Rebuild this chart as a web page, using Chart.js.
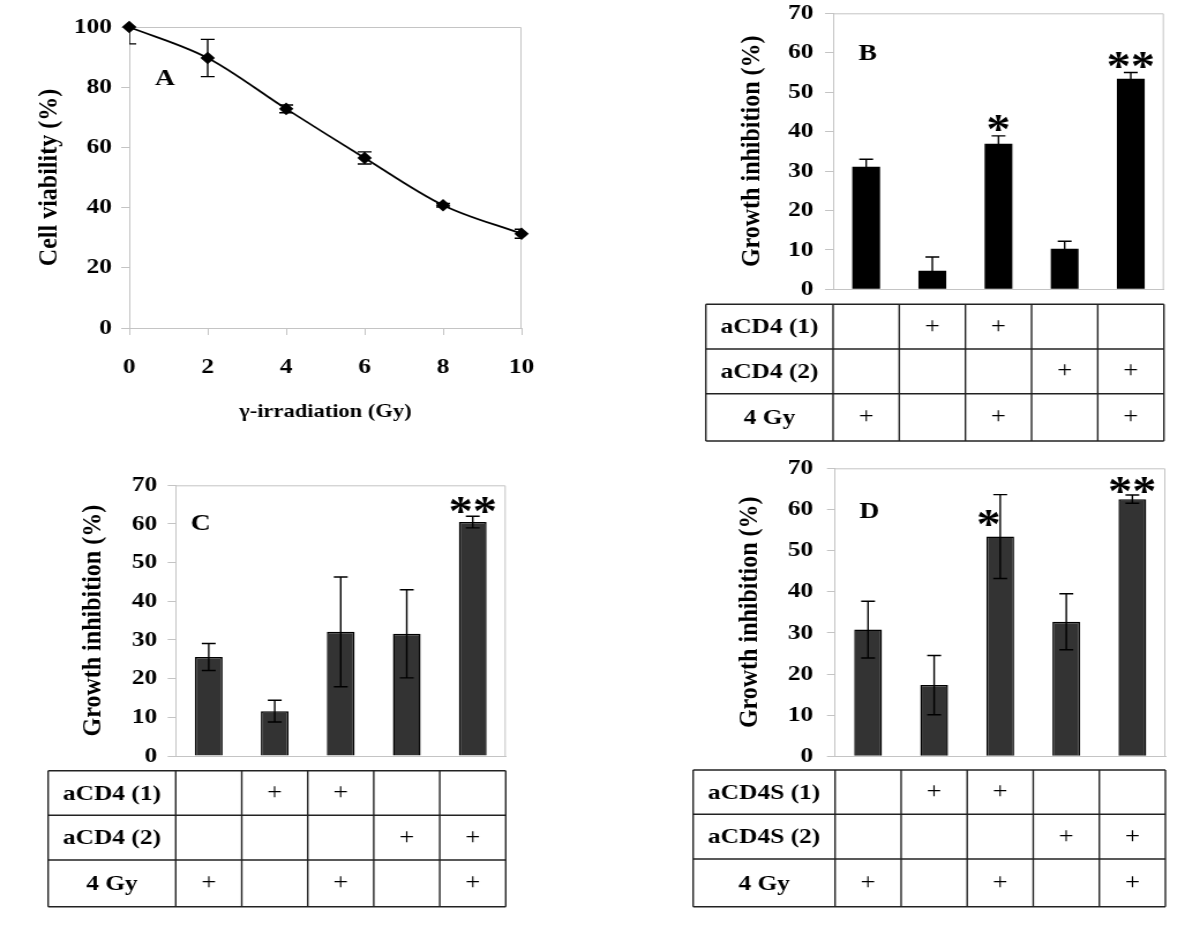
<!DOCTYPE html>
<html>
<head>
<meta charset="utf-8">
<script src="https://cdn.jsdelivr.net/npm/chart.js@4.4.1/dist/chart.umd.min.js"></script>
<style>
  body { margin: 0; background: #fff; }
  #wrap { position: relative; width: 1200px; height: 934px; overflow: hidden; background: #fff; }
  canvas { position: absolute; }
</style>
</head>
<body>
<div id="wrap">
  <!-- the source figure is stretched horizontally, so each 520px canvas is shown 600px wide -->
  <canvas id="panelA" width="520" height="460" style="left:0;top:0;width:600px;height:460px"></canvas>
  <canvas id="panelB" width="520" height="460" style="left:600px;top:0;width:600px;height:460px"></canvas>
  <canvas id="panelC" width="520" height="474" style="left:0;top:460px;width:600px;height:474px"></canvas>
  <canvas id="panelD" width="520" height="474" style="left:600px;top:460px;width:600px;height:474px"></canvas>
</div>
<script>
// panel A: dose response
const doses = [0, 2, 4, 6, 8, 10];
const viability = [100, 89.7, 72.8, 56.5, 40.8, 31.3];
const viabilityErr = [5.6, 6.2, 1.3, 2.0, 0.6, 1.5];

// panels B-D: growth inhibition per treatment group
const groups = ['1', '2', '3', '4', '5'];
const inhibitionB = [31.1, 4.7, 36.9, 10.3, 53.4];
const errB = [1.9, 3.5, 2.0, 1.9, 1.6];
const inhibitionC = [25.6, 11.6, 32.1, 31.6, 60.5];
const errC = [3.5, 2.8, 14.2, 11.4, 1.5];
const inhibitionD = [30.8, 17.3, 53.4, 32.7, 62.5];
const errD = [6.9, 7.2, 10.2, 6.8, 1.0];

// significance marks (label and height in %)
const sigB = ['', '', '*', '', '**'];
const sigYB = [null, null, 42.2, null, 58.2];
const sigC = ['', '', '', '', '**'];
const sigYC = [null, null, null, null, 64.9];
const sigD = ['', '', '*', '', '**'];
const sigYD = [null, null, 57.9, null, 65.9];

// treatment table
const rowsCD4 = ['aCD4 (1)', 'aCD4 (2)', '4 Gy'];
const rowsCD4S = ['aCD4S (1)', 'aCD4S (2)', '4 Gy'];
const treatment = [
  [0, 1, 1, 0, 0],
  [0, 0, 0, 1, 1],
  [1, 0, 1, 0, 1]
];

const FONT = "'Liberation Serif', 'Times New Roman', serif";
const GRID = '#c4c4c4';

Chart.defaults.font.family = FONT;
Chart.defaults.font.weight = 'bold';
Chart.defaults.color = '#000';

const framePlugin = {
  id: 'frame',
  beforeDatasetsDraw(chart) {
    const { ctx, chartArea: a } = chart;
    ctx.save();
    ctx.strokeStyle = GRID;
    ctx.lineWidth = 1;
    ctx.beginPath();
    ctx.moveTo(a.left, a.top + 0.5);
    ctx.lineTo(a.right - 0.5, a.top + 0.5);
    ctx.lineTo(a.right - 0.5, a.bottom);
    ctx.stroke();
    ctx.restore();
  }
};

const errorPlugin = {
  id: 'errorBars',
  afterDatasetsDraw(chart, args, o) {
    if (!o.errors) return;
    const { ctx, chartArea: a, scales: { y } } = chart;
    const meta = chart.getDatasetMeta(0);
    const data = chart.data.datasets[0].data;
    ctx.save();
    ctx.beginPath();
    ctx.rect(a.left, a.top, a.right - a.left, a.bottom - a.top);
    ctx.clip();
    ctx.strokeStyle = '#000';
    ctx.lineWidth = 1.4;
    meta.data.forEach((el, i) => {
      const v = typeof data[i] === 'object' ? data[i].y : data[i];
      const e = o.errors[i];
      const top = y.getPixelForValue(v + e);
      const bot = y.getPixelForValue(v - e);
      ctx.beginPath();
      ctx.moveTo(el.x, top);
      ctx.lineTo(el.x, bot);
      ctx.moveTo(el.x - 6, top);
      ctx.lineTo(el.x + 6, top);
      ctx.moveTo(el.x - 6, bot);
      ctx.lineTo(el.x + 6, bot);
      ctx.stroke();
    });
    ctx.restore();
  }
};

const marksPlugin = {
  id: 'marks',
  afterDatasetsDraw(chart, args, o) {
    const { ctx, scales: { x, y } } = chart;
    ctx.save();
    ctx.fillStyle = '#000';
    ctx.textAlign = 'center';
    ctx.textBaseline = 'alphabetic';
    if (o.letter) {
      ctx.font = 'bold 24px ' + FONT;
      const m = ctx.measureText(o.letter);
      ctx.fillText(o.letter, o.letterX, o.letterY + (m.actualBoundingBoxAscent - m.actualBoundingBoxDescent) / 2);
    }
    (o.labels || []).forEach((s, i) => {
      if (!s) return;
      ctx.font = 'bold 42px ' + FONT;
      const m = ctx.measureText(s);
      const px = x.getPixelForValue(i) + (o.dx ? o.dx[i] : 0);
      const py = y.getPixelForValue(o.values[i]) + (m.actualBoundingBoxAscent - m.actualBoundingBoxDescent) / 2;
      ctx.fillText(s, px, py);
    });
    ctx.restore();
  }
};

const tablePlugin = {
  id: 'treatTable',
  afterDraw(chart, args, o) {
    if (!o.rows) return;
    const { ctx, chartArea: a, scales: { x } } = chart;
    const cols = [o.left, a.left];
    for (let i = 0; i < groups.length - 1; i++) {
      cols.push((x.getPixelForValue(i) + x.getPixelForValue(i + 1)) / 2);
    }
    cols.push(a.right);
    const lines = o.rowLines;
    ctx.save();
    ctx.strokeStyle = '#222';
    ctx.lineWidth = 1.4;
    lines.forEach(yy => {
      ctx.beginPath();
      ctx.moveTo(cols[0], yy);
      ctx.lineTo(cols[cols.length - 1], yy);
      ctx.stroke();
    });
    cols.forEach(xx => {
      ctx.beginPath();
      ctx.moveTo(xx, lines[0]);
      ctx.lineTo(xx, lines[lines.length - 1]);
      ctx.stroke();
    });
    ctx.fillStyle = '#000';
    ctx.textAlign = 'center';
    ctx.textBaseline = 'middle';
    o.rows.forEach((label, r) => {
      const cy = (lines[r] + lines[r + 1]) / 2;
      ctx.font = 'bold 22px ' + FONT;
      ctx.fillText(label, (cols[0] + cols[1]) / 2, cy + 1);
      ctx.font = '23px ' + FONT;
      o.flags[r].forEach((f, i) => {
        if (f) ctx.fillText('+', x.getPixelForValue(i), cy);
      });
    });
    ctx.restore();
  }
};

Chart.register(framePlugin, errorPlugin, marksPlugin, tablePlugin);

// panel A
new Chart(document.getElementById('panelA'), {
  type: 'line',
  data: {
    datasets: [{
      data: doses.map((d, i) => ({ x: d, y: viability[i] })),
      borderColor: '#000',
      borderWidth: 1.8,
      cubicInterpolationMode: 'monotone',
      pointStyle: 'rectRot',
      pointRadius: 5,
      pointBackgroundColor: '#000',
      pointBorderColor: '#000',
      clip: false
    }]
  },
  options: {
    responsive: false,
    animation: false,
    layout: { padding: { left: 24.6, right: 520 - 452, top: 27, bottom: 32.6 } },
    plugins: {
      legend: { display: false },
      tooltip: { enabled: false },
      errorBars: { errors: viabilityErr },
      marks: { letter: 'A', letterX: 143, letterY: 77 }
    },
    scales: {
      x: {
        type: 'linear', min: 0, max: 10,
        ticks: { stepSize: 2, padding: 19, font: { size: 22, weight: 'bold' } },
        grid: { drawOnChartArea: false, tickLength: 7, color: GRID },
        border: { color: GRID },
        title: { display: true, text: 'γ-irradiation (Gy)', font: { size: 19.5, weight: 'bold' }, padding: { top: 4, bottom: 4 } },
        afterFit(s) { s.height = 99.4; s.paddingLeft = 0; s.paddingRight = 0; }
      },
      y: {
        min: 0, max: 100,
        ticks: { stepSize: 20, padding: 8, font: { size: 22, weight: 'bold' } },
        grid: { drawOnChartArea: false, tickLength: 7, color: GRID },
        border: { color: GRID },
        title: { display: true, text: 'Cell viability (%)', font: { size: 24, weight: 'bold' }, padding: { top: 4, bottom: 4 } },
        afterFit(s) { s.width = 112 - 24.6; s.paddingTop = 0; s.paddingBottom = 0; }
      }
    }
  }
});

function barPanel(id, cfg) {
  return new Chart(document.getElementById(id), {
    type: 'bar',
    data: {
      labels: groups,
      datasets: [{
        data: cfg.values,
        backgroundColor: cfg.color,
        borderColor: '#000',
        borderWidth: cfg.border,
        barPercentage: 0.42,
        categoryPercentage: 1
      }]
    },
    options: {
      responsive: false,
      animation: false,
      layout: { padding: { left: cfg.padLeft, right: 520 - cfg.right, top: cfg.top, bottom: 0 } },
      plugins: {
        legend: { display: false },
        tooltip: { enabled: false },
        errorBars: { errors: cfg.errors },
        marks: { letter: cfg.letter, letterX: cfg.letterX, letterY: cfg.letterY, labels: cfg.sig, values: cfg.sigY, dx: cfg.sigDx },
        treatTable: { rows: cfg.rows, flags: treatment, left: cfg.tableLeft, rowLines: cfg.rowLines }
      },
      scales: {
        x: {
          ticks: { display: false },
          grid: { drawOnChartArea: false, drawTicks: false, color: GRID },
          border: { color: GRID },
          afterFit(s) { s.height = cfg.canvasH - cfg.bottom; s.paddingLeft = 0; s.paddingRight = 0; }
        },
        y: {
          min: 0, max: 70,
          ticks: { stepSize: 10, padding: cfg.tickPad, font: { size: 22, weight: 'bold' } },
          grid: { drawOnChartArea: false, tickLength: 7, color: GRID },
          border: { color: GRID },
          title: { display: true, text: 'Growth inhibition (%)', font: { size: 24, weight: 'bold' }, padding: { top: 4, bottom: 4 } },
          afterFit(s) { s.width = cfg.left - cfg.padLeft; s.paddingTop = 0; s.paddingBottom = 0; }
        }
      }
    }
  });
}

barPanel('panelB', {
  values: inhibitionB, errors: errB, color: '#000', border: 0,
  canvasH: 460, left: 202, right: 488.7, top: 13.3, bottom: 289.3,
  padLeft: 113.6, tickPad: 10,
  letter: 'B', letterX: 232, letterY: 52,
  sig: sigB, sigY: sigYB, sigDx: [0, 0, 0, 0, 0],
  rows: rowsCD4, tableLeft: 91.7, rowLines: [304.3, 349, 393.7, 441]
});

barPanel('panelC', {
  values: inhibitionC, errors: errC, color: '#333', border: 1.5,
  canvasH: 474, left: 152.3, right: 438.3, top: 25.3, bottom: 296,
  padLeft: 62.3, tickPad: 9,
  letter: 'C', letterX: 174, letterY: 62.3,
  sig: sigC, sigY: sigYC, sigDx: [0, 0, 0, 0, 0],
  rows: rowsCD4, tableLeft: 41.7, rowLines: [310.7, 355.3, 400, 446.7]
});

barPanel('panelD', {
  values: inhibitionD, errors: errD, color: '#333', border: 1.5,
  canvasH: 474, left: 203.7, right: 490, top: 8.3, bottom: 296.3,
  padLeft: 110.9, tickPad: 12,
  letter: 'D', letterX: 233.3, letterY: 50,
  sig: sigD, sigY: sigYD, sigDx: [0, 0, -10, 0, 0],
  rows: rowsCD4S, tableLeft: 80.7, rowLines: [310, 354.3, 399, 446.7]
});
</script>
</body>
</html>
